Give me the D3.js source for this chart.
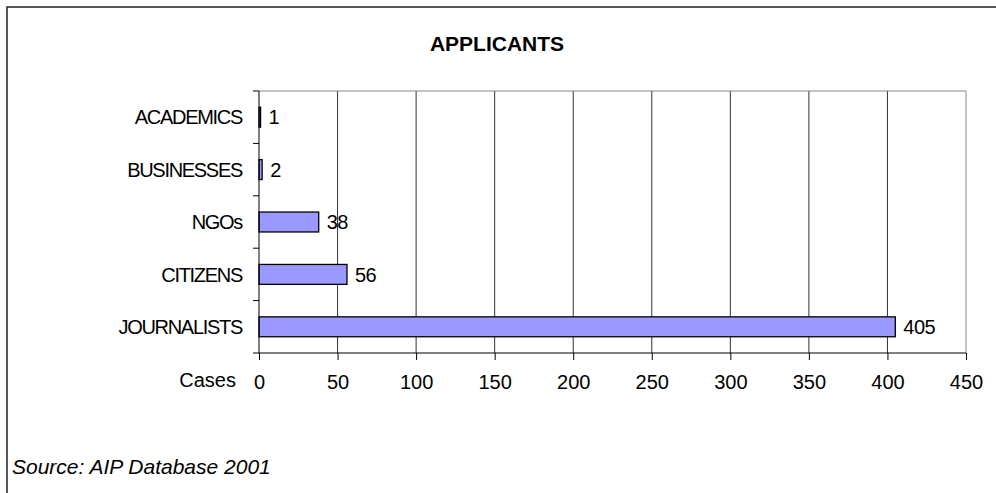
<!DOCTYPE html>
<html>
<head>
<meta charset="utf-8">
<script src="https://cdn.jsdelivr.net/npm/d3@7"></script>
<style>
  body { margin: 0; background: #fff; }
  svg text { font-family: Arial, "Liberation Sans", sans-serif; fill: #000; }
</style>
</head>
<body>
<div id="chart"></div>
<script>
// 数据
const categories = ["ACADEMICS", "BUSINESSES", "NGOs", "CITIZENS", "JOURNALISTS"];
const cases = [1, 2, 38, 56, 405];
const xTicks = [0, 50, 100, 150, 200, 250, 300, 350, 400, 450];
const title = "APPLICANTS";
const xLabel = "Cases";
const source = "Source: AIP Database 2001";

const width = 996, height = 493;
const plot = { left: 259, right: 966, top: 91, bottom: 353 };

const svg = d3.select("#chart").append("svg")
    .attr("width", width)
    .attr("height", height);

// 外框 (只看得到上边和左边)
svg.append("rect")
    .attr("x", 7).attr("y", 7)
    .attr("width", width + 20).attr("height", height + 20)
    .attr("fill", "none")
    .attr("stroke", "#222")
    .attr("stroke-width", 1.5);

const x = d3.scaleLinear().domain([0, 450]).range([plot.left, plot.right]);
const y = d3.scaleBand().domain(categories).range([plot.top, plot.bottom]).padding(0);

// 网格线
svg.append("g")
    .selectAll("line")
    .data(xTicks.slice(1))
    .join("line")
    .attr("x1", d => x(d)).attr("x2", d => x(d))
    .attr("y1", plot.top).attr("y2", plot.bottom)
    .attr("stroke", d => d === 450 ? "#888" : "#333")
    .attr("stroke-width", 1);

// 上边框
svg.append("line")
    .attr("x1", plot.left).attr("x2", plot.right)
    .attr("y1", plot.top).attr("y2", plot.top)
    .attr("stroke", "#888");

// 柱子
const barH = y.bandwidth() * 0.38;
svg.append("g")
    .selectAll("rect")
    .data(categories)
    .join("rect")
    .attr("x", x(0))
    .attr("y", d => y(d) + (y.bandwidth() - barH) / 2)
    .attr("width", (d, i) => x(cases[i]) - x(0))
    .attr("height", barH)
    .attr("fill", "#9999ff")
    .attr("stroke", "#000")
    .attr("stroke-width", 1.3);

// 数值标签
svg.append("g")
    .selectAll("text")
    .data(categories)
    .join("text")
    .attr("x", (d, i) => x(cases[i]) + 8)
    .attr("y", d => y(d) + y.bandwidth() / 2)
    .attr("dy", "0.36em")
    .attr("font-size", 20)
    .attr("letter-spacing", -0.5)
    .text((d, i) => cases[i]);

// x 轴
const xAxis = svg.append("g")
    .attr("transform", "translate(0," + plot.bottom + ")")
    .call(d3.axisBottom(x).tickValues(xTicks).tickSize(7).tickPadding(15).tickFormat(d3.format("d")));
xAxis.select(".domain").attr("stroke", "#000").attr("d", "M" + plot.left + ",0H" + plot.right);
xAxis.selectAll(".tick line").attr("stroke", "#000");
xAxis.selectAll("text").attr("font-size", 20).attr("font-family", "Arial, 'Liberation Sans', sans-serif");

// y 轴
const bounds = categories.map(d => y(d)).concat([plot.bottom]);
const yAxis = svg.append("g");
yAxis.append("line")
    .attr("x1", plot.left).attr("x2", plot.left)
    .attr("y1", plot.top).attr("y2", plot.bottom)
    .attr("stroke", "#000");
yAxis.selectAll(".tk")
    .data(bounds)
    .join("line")
    .attr("class", "tk")
    .attr("x1", plot.left - 6).attr("x2", plot.left)
    .attr("y1", d => d).attr("y2", d => d)
    .attr("stroke", "#000");
yAxis.selectAll("text")
    .data(categories)
    .join("text")
    .attr("x", plot.left - 17)
    .attr("y", d => y(d) + y.bandwidth() / 2)
    .attr("dy", "0.36em")
    .attr("text-anchor", "end")
    .attr("font-size", 20)
    .attr("letter-spacing", -1.3)
    .text(d => d);

// 标题
svg.append("text")
    .attr("x", 497).attr("y", 51)
    .attr("text-anchor", "middle")
    .attr("font-size", 21)
    .attr("font-weight", "bold")
    .text(title);

svg.append("text")
    .attr("x", 236).attr("y", 387)
    .attr("text-anchor", "end")
    .attr("font-size", 20)
    .text(xLabel);

svg.append("text")
    .attr("x", 12).attr("y", 474)
    .attr("font-size", 21)
    .attr("font-style", "italic")
    .text(source);
</script>
</body>
</html>
